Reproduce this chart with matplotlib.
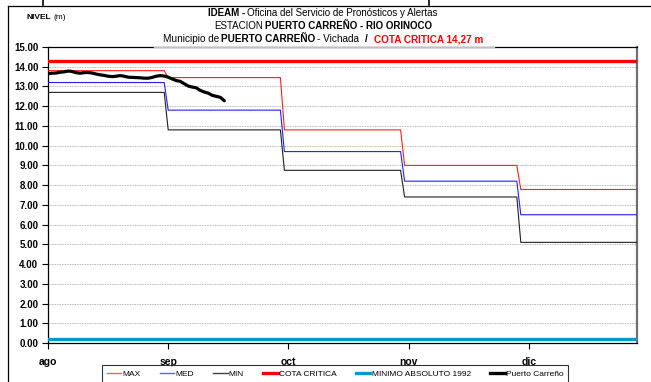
import numpy as np
import matplotlib
matplotlib.use("Agg")
import matplotlib.pyplot as plt
from matplotlib.lines import Line2D

plt.rcParams['font.family'] = ['Liberation Sans', 'DejaVu Sans']

# Pronostico mensual (m) ago..dic
months = ['ago', 'sep', 'oct', 'nov', 'dic']
month_ticks = [0, 30, 60, 90, 120]
month_days = [30, 29, 30, 29, 30]
niv_max = [13.80, 13.45, 10.80, 9.00, 7.78]
niv_med = [13.20, 11.80, 9.70, 8.20, 6.50]
niv_min = [12.70, 10.80, 8.75, 7.40, 5.10]
cota_critica = 14.27
minimo_1992 = 0.22

# Niveles diarios observados en Puerto Carreño desde el 1 de agosto
obs = [13.65, 13.67, 13.68, 13.72, 13.74, 13.78, 13.76, 13.70, 13.67, 13.70,
       13.71, 13.68, 13.63, 13.59, 13.56, 13.52, 13.50, 13.52, 13.55, 13.52,
       13.47, 13.46, 13.45, 13.44, 13.42, 13.42, 13.46, 13.52, 13.55, 13.53,
       13.47, 13.38, 13.30, 13.26, 13.14, 13.02, 12.97, 12.93, 12.80, 12.72,
       12.66, 12.55, 12.50, 12.45, 12.28]

W, H = 651, 382
fig = plt.figure(figsize=(W / 100, H / 100), dpi=100)
ax = fig.add_axes([48 / W, 1 - 343 / H, (637 - 48) / W, (343 - 47) / H])

serie_max = np.repeat(niv_max, month_days)
serie_med = np.repeat(niv_med, month_days)
serie_min = np.repeat(niv_min, month_days)
dias = np.arange(len(serie_max))

ax.plot(dias, serie_max, color='#ff2020', lw=0.8, zorder=3)
ax.plot(dias, serie_med, color='#2020ff', lw=0.8, zorder=3)
ax.plot(dias, serie_min, color='#202020', lw=0.8, zorder=3)
ax.axhline(cota_critica, color='#ff0000', lw=2.4, zorder=4)
ax.axhline(minimo_1992, color='#0099cc', lw=2.4, zorder=4)
ax.plot(np.arange(len(obs)), obs, color='black', lw=2.3, zorder=5,
        solid_capstyle='round')

ax.set_xlim(0, len(dias) - 1)
ax.set_ylim(0, 15)
ax.set_yticks(np.arange(0, 16, 1))
ax.set_yticklabels([f'{v:.2f}' for v in np.arange(0, 16, 1)],
                   fontsize=7, fontweight='bold')
ax.set_xticks(month_ticks)
ax.set_xticklabels(months, fontsize=7.5, fontweight='bold')
ax.tick_params(axis='both', direction='out', length=4, width=0.8, color='black')
ax.tick_params(axis='x', pad=6)
ax.tick_params(axis='y', pad=3)
ax.grid(axis='y', color='#a0a0a0', linestyle=(0, (1, 1)), lw=0.6, zorder=1)
for side in ['left', 'bottom', 'top']:
    ax.spines[side].set_color('black')
    ax.spines[side].set_linewidth(0.9)
ax.spines['right'].set_color('#707070')
ax.spines['right'].set_linewidth(1.6)

# marco exterior del grafico
fig.add_artist(Line2D([8 / W, 8 / W], [0, 1 - 6 / H], color='black', lw=0.9))
fig.add_artist(Line2D([8 / W, 1], [1 - 6 / H, 1 - 6 / H], color='black', lw=0.9))
for xm in [43, 429]:
    fig.add_artist(Line2D([xm / W, xm / W], [1, 1 - 5 / H], color='black', lw=1.2))
# tramo del borde superior tapado por el titulo
fig.add_artist(Line2D([154 / W, 494 / W], [1 - 47 / H, 1 - 47 / H],
                      color='#c0c0c0', lw=1.0, zorder=10))

renderer = fig.canvas.get_renderer()


def rich_line(xc, yb, parts, size):
    # parts: (texto, peso, color, espacio previo en px)
    items = []
    for s, weight, color, gap in parts:
        t = fig.text(0, 1 - yb / H, s, fontsize=size, fontweight=weight,
                     color=color, ha='left', va='baseline')
        items.append((t, t.get_window_extent(renderer).width, gap))
    total = sum(w + g for _, w, g in items)
    x = xc - total / 2
    for t, w, g in items:
        x += g
        t.set_x(x / W)
        x += w


rich_line(323, 16, [('IDEAM -', 'bold', 'black', 0),
                    ('Oficina del Servicio de Pronósticos y Alertas', 'normal', 'black', 2)], 7)
rich_line(323, 29, [('ESTACION', 'normal', 'black', 0),
                    ('PUERTO CARREÑO - RIO ORINOCO', 'bold', 'black', 2)], 7)
rich_line(323, 42, [('Municipio de', 'normal', 'black', 0),
                    ('PUERTO CARREÑO', 'bold', 'black', 2),
                    ('- Vichada', 'normal', 'black', 2),
                    ('/', 'bold', 'black', 6),
                    ('COTA CRITICA 14,27 m', 'bold', '#ff0000', 6)], 7.2)
rich_line(46, 19, [('NIVEL', 'bold', 'black', 0),
                   ('(m)', 'normal', 'black', 2)], 6)

handles = [
    Line2D([], [], color='#ff6060', lw=1.0),
    Line2D([], [], color='#6060ff', lw=1.0),
    Line2D([], [], color='#404040', lw=1.0),
    Line2D([], [], color='#ff0000', lw=2.4),
    Line2D([], [], color='#0099cc', lw=2.4),
    Line2D([], [], color='black', lw=2.4),
]
labels = ['MAX', 'MED', 'MIN', 'COTA CRITICA', 'MINIMO ABSOLUTO 1992', 'Puerto Carreño']
leg = fig.legend(handles, labels, loc='upper center', bbox_to_anchor=(335 / W, 1 - 365 / H),
                 ncol=6, fontsize=6, frameon=True, fancybox=False, handlelength=1.7,
                 handletextpad=0.15, columnspacing=2.35, borderpad=0.6, borderaxespad=0)
leg.get_frame().set_edgecolor('black')
leg.get_frame().set_linewidth(0.8)

fig.savefig('out.png', dpi=100)
